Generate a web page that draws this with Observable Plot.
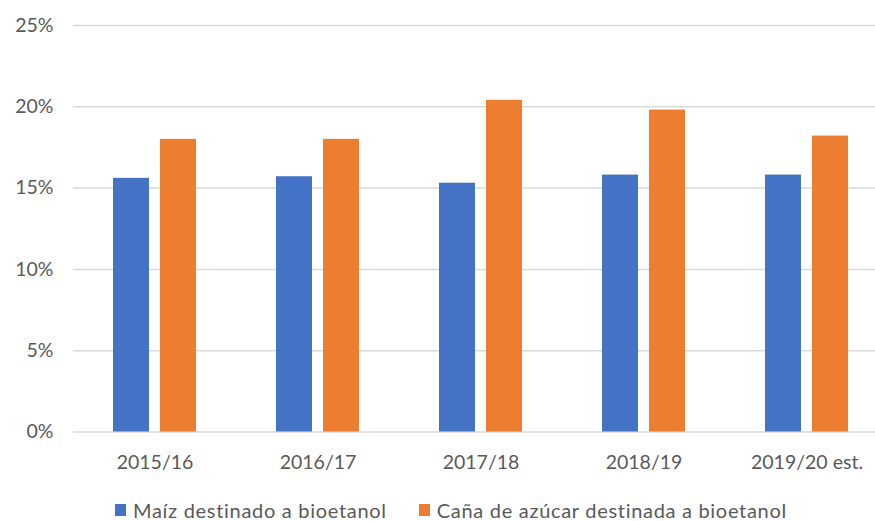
<!DOCTYPE html>
<html>
<head>
<meta charset="utf-8">
<script src="https://cdn.jsdelivr.net/npm/d3@7"></script>
<script src="https://cdn.jsdelivr.net/npm/@observablehq/plot@0.6"></script>
<style>
  body { margin: 0; background: #fff; }
  #chart { width: 875px; height: 521px; position: relative; overflow: hidden; font-family: Lato, sans-serif; }
  .legend { position: absolute; top: 500px; left: 0; display: flex; align-items: center; padding-left: 115px; gap: 32px; font-size: 20px; line-height: 20px; letter-spacing: 0.7px; color: #595959; }
  .item { display: flex; align-items: center; gap: 7px; }
  .sw { width: 11px; height: 12px; display: inline-block; }
</style>
</head>
<body>
<div id="chart"></div>
<script>
const categories = ["2015/16", "2016/17", "2017/18", "2018/19", "2019/20 est."];
const seriesNames = ["Maíz destinado a bioetanol", "Caña de azúcar destinada a bioetanol"];
const maiz = [15.6, 15.7, 15.3, 15.8, 15.8];
const cana = [18.0, 18.0, 20.4, 19.8, 18.2];
const colors = ["#4472C4", "#ED7D31"];
const yTicks = [0, 5, 10, 15, 20, 25];

const rows = [];
categories.forEach((c, i) => {
  rows.push({cat: c, series: seriesNames[0], value: maiz[i]});
  rows.push({cat: c, series: seriesNames[1], value: cana[i]});
});

const plot = Plot.plot({
  width: 875,
  height: 490,
  marginTop: 25,
  marginBottom: 58.5,
  marginLeft: 73,
  marginRight: 0,
  style: {fontFamily: "Lato, sans-serif", fontSize: "19.5px", color: "#595959", background: "#fff"},
  fx: {domain: categories, range: [72.5, 887.5], padding: 0, label: null, tickSize: 0, tickPadding: 23},
  x: {domain: seriesNames, paddingInner: 0.234, paddingOuter: 0.851, axis: null},
  y: {domain: [0, 25], ticks: yTicks, tickFormat: d => d + "%", tickSize: 0, tickPadding: 20, label: null},
  color: {domain: seriesNames, range: colors},
  marks: [
    Plot.ruleY(yTicks, {stroke: "#d9d9d9", strokeWidth: 1.5}),
    Plot.barY(rows, {fx: "cat", x: "series", y: "value", fill: "series", inset: 0})
  ]
});
document.getElementById("chart").appendChild(plot);

const legend = document.createElement("div");
legend.className = "legend";
seriesNames.forEach((s, i) => {
  const it = document.createElement("div");
  it.className = "item";
  const sw = document.createElement("span");
  sw.className = "sw";
  sw.style.background = colors[i];
  const t = document.createElement("span");
  t.textContent = s;
  it.appendChild(sw); it.appendChild(t);
  legend.appendChild(it);
});
document.getElementById("chart").appendChild(legend);
</script>
</body>
</html>
